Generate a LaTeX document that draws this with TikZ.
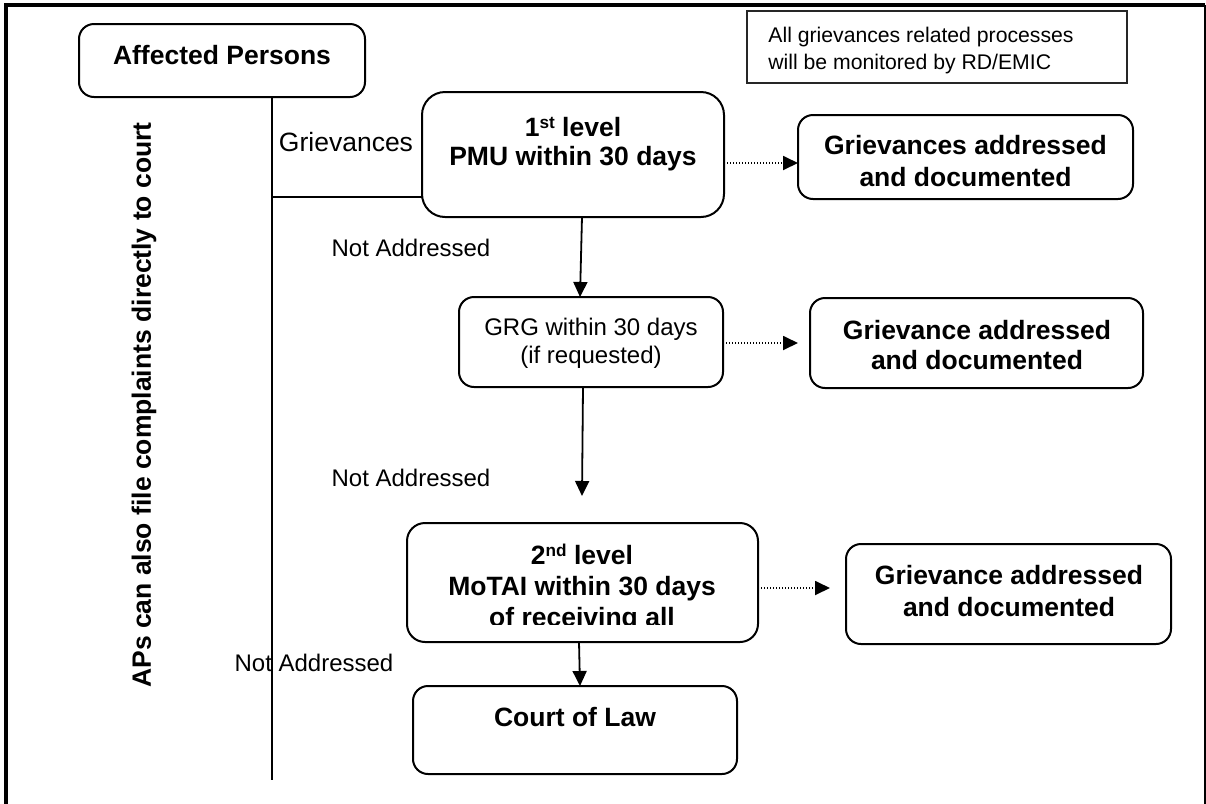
\documentclass[tikz,border=0pt]{standalone}
\usepackage{fontspec}
\setmainfont{Liberation Sans}
\usetikzlibrary{arrows.meta}
\newcommand{\supx}[1]{\raisebox{0.55ex}{\fontsize{8.6}{9}\selectfont #1}}
\begin{document}
\begin{tikzpicture}[x=0.5pt,y=-0.5pt,
  box/.style={draw, line width=1pt, rounded corners=7.5pt, inner sep=0pt, outer sep=0pt},
  bt/.style={font=\fontsize{13.25}{15}\selectfont\bfseries, inner sep=0pt, anchor=base},
  rt/.style={font=\fontsize{13.25}{15}\selectfont, inner sep=0pt, anchor=base},
  st/.style={font=\fontsize{12}{14}\selectfont, inner sep=0pt, anchor=base},
  nt/.style={font=\fontsize{10.6}{12}\selectfont, inner sep=0pt, anchor=base west},
  conn/.style={line width=0.9pt},
  arr/.style={line width=0.9pt, -{Triangle[length=7.5pt,width=7pt]}},
  dotarr/.style={line width=0.9pt, dash pattern=on 0.7pt off 0.8pt, -{Triangle[length=7.5pt,width=7pt]}}
]
\useasboundingbox (0,0) rectangle (1206,804);
% outer frame
\draw[line width=1.6pt] (6,804) -- (6,5) -- (1204.5,5);
\draw[line width=1pt] (1204.5,5) -- (1204.5,804);

% boxes
\node[box, minimum width=143pt, minimum height=36.5pt] (ap) at (222,60.5) {};
\node[box, rounded corners=11.5pt, minimum width=151pt, minimum height=62.5pt] (l1) at (573,154.5) {};
\node[box, minimum width=167.5pt, minimum height=42pt] (g1) at (965.5,157) {};
\node[box, minimum width=132pt, minimum height=45pt] (grg) at (591,342) {};
\node[box, minimum width=166.5pt, minimum height=45pt] (g2) at (976.5,343) {};
\node[box, rounded corners=9pt, minimum width=175.5pt, minimum height=59.5pt] (l2) at (582.5,582.5) {};
\node[box, minimum width=162.5pt, minimum height=50pt] (g3) at (1008.5,594) {};
\node[box, minimum width=162pt, minimum height=44pt] (court) at (575,730) {};
\node[draw=black!85, line width=1pt, rectangle, inner sep=0pt, minimum width=190pt, minimum height=36pt] (note) at (937,47) {};

% texts
\node[bt] (apt) at (222,64.5) {Affected Persons};
\node[bt] (l1a) at (573,136.5) {1\supx{st} level};
\node[bt] (l1b) at (573,165.5) {PMU within 30 days};
\node[bt] (g1a) at (965.5,154.5) {Grievances addressed};
\node[bt] (g1b) at (965.5,186.5) {and documented};
\node[st] (grga) at (591,335.6) {GRG within 30 days};
\node[st] (grgb) at (591,363.6) {(if requested)};
\node[bt] (g2a) at (977,339.5) {Grievance addressed};
\node[bt] (g2b) at (977,369.5) {and documented};
\begin{scope}
\clip (400,520) rectangle (765,624.5);
\node[bt] (l2a) at (582,564.5) {2\supx{nd} level};
\node[bt] (l2b) at (582,595.5) {MoTAI within 30 days};
\node[bt] (l2c) at (582,626.5) {of receiving all};
\end{scope}
\node[bt] (g3a) at (1009,584.5) {Grievance addressed};
\node[bt] (g3b) at (1009,616.5) {and documented};
\node[bt] (ct) at (575,726.5) {Court of Law};
\node[nt] (n1) at (768,42.6) {All grievances related processes};
\node[nt] (n2) at (768,69.6) {will be monitored by RD/EMIC};

\node[rt] (griev) at (346,151.5) {Grievances};
\node[st] (na1) at (411,256.6) {Not Addressed};
\node[st] (na2) at (411,486.6) {Not Addressed};
\node[st] (na3) at (314,671.6) {Not Addressed};
\node[font=\fontsize{13.25}{15}\selectfont\bfseries, inner sep=0pt, rotate=90] (aps) at (144,405) {APs can also file complaints directly to court};

% connectors
\coordinate (vbot) at (272,780);
\coordinate (hj) at (272,197);
\draw[conn] (ap.south -| vbot) -- (vbot);
\draw[conn] (hj) -- (l1.west |- hj);
\draw[arr] (l1.south -| 582,0) -- (grg.north -| 580,0);
\coordinate (ngt) at (582,496);
\draw[arr] (grg.south -| 583,0) -- (ngt);
\draw[arr] (l2.south -| 579,0) -- (court.north -| 580,0);
\draw[dotarr] (l1.east |- 0,163) -- (g1.west |- 0,163);
\coordinate (d2e) at (798,343);
\draw[dotarr] (grg.east |- 0,343) -- (d2e);
\coordinate (d3e) at (830,588);
\draw[dotarr] (l2.east |- 0,588) -- (d3e);
\end{tikzpicture}
\end{document}
